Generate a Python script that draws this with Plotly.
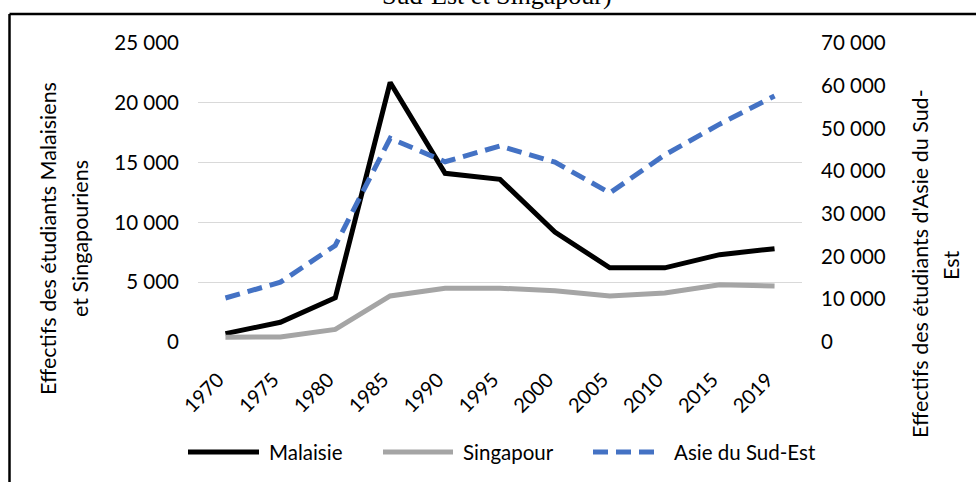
import plotly.graph_objects as go

# Student numbers by year
years = ["1970", "1975", "1980", "1985", "1990", "1995", "2000", "2005", "2010", "2015", "2019"]
malaisie = [700, 1650, 3700, 21700, 14100, 13600, 9200, 6200, 6200, 7300, 7800]
singapour = [400, 420, 1050, 3850, 4500, 4500, 4280, 3850, 4100, 4780, 4680]
asie_sud_est = [10300, 14000, 22600, 47700, 42200, 45900, 42100, 34900, 43800, 51000, 57600]

left_ticks = [0, 5000, 10000, 15000, 20000, 25000]
right_ticks = [0, 10000, 20000, 30000, 40000, 50000, 60000, 70000]

def fmt(v):
    return f"{v:,}".replace(",", " ")

W, H = 976, 482
L, R, T, B = 198, 174, 43, 140
PW, PH = W - L - R, H - T - B

def px(x):
    return (x - L) / PW

def py(y):
    return (H - B - y) / PH

FONT = "Lato, 'Open Sans', sans-serif"
BLACK = "#000000"
GREY = "#A5A5A5"
BLUE = "#4472C4"
TITLE_SIZE = 21.5

fig = go.Figure()
fig.add_trace(go.Scatter(x=years, y=malaisie, name="Malaisie", mode="lines",
                         line=dict(color=BLACK, width=5), yaxis="y"))
fig.add_trace(go.Scatter(x=years, y=singapour, name="Singapour", mode="lines",
                         line=dict(color=GREY, width=5), yaxis="y"))
fig.add_trace(go.Scatter(x=years, y=asie_sud_est, name="Asie du Sud-Est", mode="lines",
                         line=dict(color=BLUE, width=5, dash="15px,8px"), yaxis="y2"))

shapes = []
annotations = []

# frame around the figure (top and left edges)
shapes.append(dict(type="line", xref="paper", yref="paper", x0=px(9.5), x1=px(1200),
                   y0=py(14), y1=py(14), line=dict(color="#000", width=2.5)))
shapes.append(dict(type="line", xref="paper", yref="paper", x0=px(9.5), x1=px(9.5),
                   y0=py(14), y1=py(700), line=dict(color="#000", width=2.5)))

# title (running off the top edge)
annotations.append(dict(text="Sud-Est et Singapour)", xref="paper", yref="paper",
                        x=px(497), y=py(12), xanchor="center", yanchor="bottom",
                        showarrow=False,
                        font=dict(family="'Liberation Serif', 'Times New Roman', serif",
                                  size=26, color="#000")))

# axis titles
annotations.append(dict(text="Effectifs des étudiants Malaisiens", xref="paper", yref="paper",
                        x=px(48), y=py(239), textangle=-90, showarrow=False,
                        xanchor="center", yanchor="middle",
                        font=dict(family=FONT, size=TITLE_SIZE, color="#000")))
annotations.append(dict(text="et Singapouriens", xref="paper", yref="paper",
                        x=px(80), y=py(239), textangle=-90, showarrow=False,
                        xanchor="center", yanchor="middle",
                        font=dict(family=FONT, size=TITLE_SIZE, color="#000")))
annotations.append(dict(text="Effectifs des étudiants d'Asie du Sud-", xref="paper", yref="paper",
                        x=px(920), y=py(264), textangle=-90, showarrow=False,
                        xanchor="center", yanchor="middle",
                        font=dict(family=FONT, size=TITLE_SIZE, color="#000")))
annotations.append(dict(text="Est", xref="paper", yref="paper",
                        x=px(951), y=py(265), textangle=-90, showarrow=False,
                        xanchor="center", yanchor="middle",
                        font=dict(family=FONT, size=TITLE_SIZE, color="#000")))

# legend row
legend_items = [
    ("Malaisie", BLACK, "solid", 188, 259, 267),
    ("Singapour", GREY, "solid", 383, 453, 461),
    ("Asie du Sud-Est", BLUE, "15px,8px", 593, 658, 672),
]
for label, color, dash, x0, x1, tx in legend_items:
    shapes.append(dict(type="line", xref="paper", yref="paper", x0=px(x0), x1=px(x1),
                       y0=py(452), y1=py(452), line=dict(color=color, width=5, dash=dash)))
    annotations.append(dict(text=label, xref="paper", yref="paper", x=px(tx), y=py(452),
                            xanchor="left", yanchor="middle", showarrow=False,
                            font=dict(family=FONT, size=20.5, color="#000")))

fig.update_layout(
    width=W, height=H,
    margin=dict(l=L, r=R, t=T, b=B, pad=0),
    paper_bgcolor="white", plot_bgcolor="white",
    showlegend=False,
    font=dict(family=FONT, size=20, color="#000"),
    xaxis=dict(type="category", categoryorder="array", categoryarray=years,
               range=[-0.5, len(years) - 0.5],
               tickvals=years, ticktext=[y + "\u00a0\u00a0" for y in years],
               tickangle=-45, showgrid=False, zeroline=False, showline=False,
               ticks="", ticklabelstandoff=14, tickfont=dict(size=20)),
    yaxis=dict(range=[0, 25000], tickvals=left_ticks, ticktext=[fmt(v) for v in left_ticks],
               showgrid=True, gridcolor="#D9D9D9", gridwidth=1.3, zeroline=False,
               showline=False, ticks="", ticklabelstandoff=18, tickfont=dict(size=20.5)),
    yaxis2=dict(range=[0, 70000], tickvals=right_ticks, ticktext=[fmt(v) for v in right_ticks],
                overlaying="y", side="right", showgrid=False, zeroline=False,
                showline=False, ticks="", ticklabelstandoff=18, tickfont=dict(size=20.5)),
    shapes=shapes,
    annotations=annotations,
)

fig.write_html("out.html")
